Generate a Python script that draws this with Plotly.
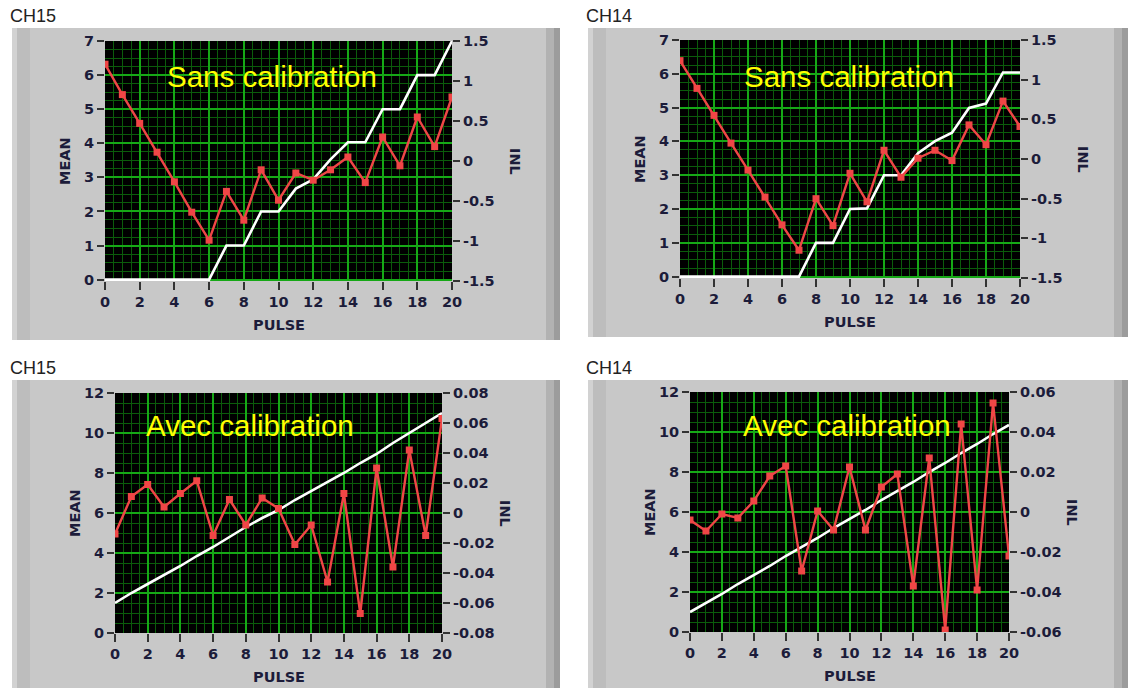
import plotly.graph_objects as go

# ---------------- data ----------------
pulse = [0, 1, 2, 3, 4, 5, 6, 7, 8, 9, 10, 11, 12, 13, 14, 15, 16, 17, 18, 19, 20]

ch15_sans_mean = [0, 0, 0, 0, 0, 0, 0, 1, 1, 2, 2, 2.67, 2.94, 3.53, 4.03, 4.03, 5.0, 5.0, 6.0, 6.0, 7.0]
ch15_sans_inl = [1.21, 0.83, 0.47, 0.11, -0.26, -0.64, -0.99, -0.38, -0.74, -0.11, -0.49,
                 -0.15, -0.24, -0.11, 0.05, -0.27, 0.30, -0.06, 0.55, 0.18, 0.80]

ch14_sans_mean = [0, 0, 0, 0, 0, 0, 0, 0, 1, 1, 2, 2.02, 3.0, 3.0, 3.65, 4.01, 4.26, 4.99, 5.12, 6.04, 6.04]
ch14_sans_inl = [1.24, 0.89, 0.55, 0.20, -0.14, -0.48, -0.83, -1.15, -0.50, -0.84, -0.18,
                 -0.54, 0.11, -0.23, 0.01, 0.11, -0.02, 0.43, 0.18, 0.73, 0.41]

ch15_avec_mean = [1.5, 2.0, 2.45, 2.9, 3.35, 3.85, 4.3, 4.8, 5.3, 5.75, 6.15, 6.65, 7.1, 7.55, 8.0,
                  8.5, 8.95, 9.5, 10.0, 10.5, 11.0]
ch15_avec_inl = [-0.014, 0.011, 0.019, 0.004, 0.013, 0.0215, -0.015, 0.009, -0.008, 0.010, 0.003,
                 -0.021, -0.008, -0.046, 0.013, -0.067, 0.030, -0.036, 0.042, -0.015, 0.063]

ch14_avec_mean = [1.0, 1.45, 1.9, 2.4, 2.85, 3.3, 3.8, 4.25, 4.7, 5.2, 5.65, 6.1, 6.6, 7.05, 7.5,
                  8.0, 8.45, 8.95, 9.4, 9.9, 10.35]
ch14_avec_inl = [-0.004, -0.0095, -0.001, -0.003, 0.0055, 0.018, 0.023, -0.0295, 0.0005, -0.009, 0.0225,
                 -0.009, 0.0125, 0.019, -0.037, 0.027, -0.059, 0.044, -0.039, 0.0545, -0.022]

x_ticks = [0, 2, 4, 6, 8, 10, 12, 14, 16, 18, 20]
mean_ticks_top = [0, 1, 2, 3, 4, 5, 6, 7]
mean_ticks_bot = [0, 2, 4, 6, 8, 10, 12]
inl_ticks_top = [-1.5, -1, -0.5, 0, 0.5, 1, 1.5]
inl_text_top = ["-1.5", "-1", "-0.5", "0", "0.5", "1", "1.5"]
inl_ticks_bl = [-0.08, -0.06, -0.04, -0.02, 0, 0.02, 0.04, 0.06, 0.08]
inl_text_bl = ["-0.08", "-0.06", "-0.04", "-0.02", "0", "0.02", "0.04", "0.06", "0.08"]
inl_ticks_br = [-0.06, -0.04, -0.02, 0, 0.02, 0.04, 0.06]
inl_text_br = ["-0.06", "-0.04", "-0.02", "0", "0.02", "0.04", "0.06"]

channels = ["CH15", "CH14", "CH15", "CH14"]
captions = ["Sans calibration", "Sans calibration", "Avec calibration", "Avec calibration"]

# ---------------- layout geometry (pixels) ----------------
W, H = 1129, 688
panels = [
    dict(plot=(105, 452, 41, 281), box=(12, 560, 28, 340), mean=ch15_sans_mean, inl=ch15_sans_inl,
         mrange=[-0.04, 7], mticks=mean_ticks_top, mminor=0.25, irange=[-1.5, 1.5],
         iticks=inl_ticks_top, itext=inl_text_top, cap=(272, 76)),
    dict(plot=(680, 1020, 40, 278), box=(588, 1128, 28, 337), mean=ch14_sans_mean, inl=ch14_sans_inl,
         mrange=[-0.04, 7], mticks=mean_ticks_top, mminor=0.25, irange=[-1.5, 1.5],
         iticks=inl_ticks_top, itext=inl_text_top, cap=(849, 76)),
    dict(plot=(115, 442, 393, 633), box=(12, 560, 380, 700), mean=ch15_avec_mean, inl=ch15_avec_inl,
         mrange=[0, 12], mticks=mean_ticks_bot, mminor=0.5, irange=[-0.08, 0.08],
         iticks=inl_ticks_bl, itext=inl_text_bl, cap=(250, 424)),
    dict(plot=(690, 1009, 392, 632), box=(588, 1128, 380, 700), mean=ch14_avec_mean, inl=ch14_avec_inl,
         mrange=[0, 12], mticks=mean_ticks_bot, mminor=0.5, irange=[-0.06, 0.06],
         iticks=inl_ticks_br, itext=inl_text_br, cap=(847, 424)),
]


def px(x):
    return x / W


def py(y):
    return 1 - y / H


TICK_FONT = dict(family="DejaVu Sans", size=14.5, color="#1c1c3a", weight="bold")
TITLE_FONT = dict(family="DejaVu Sans", size=14.5, color="#1c1c3a", weight="bold")
MAJOR = "#16a816"
MINOR = "#0b5c0b"
RED = "#f04646"

fig = go.Figure()
shapes = []
annotations = []
layout = {}

for i, p in enumerate(panels):
    n = i + 1
    xa = "xaxis" if n == 1 else f"xaxis{n}"
    xref = "x" if n == 1 else f"x{n}"
    ya_l = 2 * n - 1
    ya_r = 2 * n
    yname_l = "yaxis" if ya_l == 1 else f"yaxis{ya_l}"
    yref_l = "y" if ya_l == 1 else f"y{ya_l}"
    yname_r = f"yaxis{ya_r}"
    yref_r = f"y{ya_r}"
    x0, x1, y0, y1 = p["plot"]
    bx0, bx1, by0, by1 = p["box"]

    # grey panel
    shapes.append(dict(type="rect", xref="paper", yref="paper", x0=px(bx0), x1=px(bx1),
                       y0=py(by1), y1=py(by0), fillcolor="#c8c8c8", line=dict(width=0), layer="below"))
    shapes.append(dict(type="rect", xref="paper", yref="paper", x0=px(bx0), x1=px(bx0 + 5),
                       y0=py(by1), y1=py(by0), fillcolor="#d2d2d2", line=dict(width=0), layer="below"))
    shapes.append(dict(type="rect", xref="paper", yref="paper", x0=px(bx0 + 5), x1=px(bx0 + 18),
                       y0=py(by1), y1=py(by0), fillcolor="#bdbdbd", line=dict(width=0), layer="below"))
    shapes.append(dict(type="rect", xref="paper", yref="paper", x0=px(bx1 - 14), x1=px(bx1 - 6),
                       y0=py(by1), y1=py(by0), fillcolor="#b2b2b2", line=dict(width=0), layer="below"))
    shapes.append(dict(type="rect", xref="paper", yref="paper", x0=px(bx1 - 6), x1=px(bx1),
                       y0=py(by1), y1=py(by0), fillcolor="#9c9c9c", line=dict(width=0), layer="below"))
    # black plot area
    shapes.append(dict(type="rect", xref="paper", yref="paper", x0=px(x0), x1=px(x1),
                       y0=py(y1), y1=py(y0), fillcolor="black", line=dict(width=0), layer="below"))

    layout[xa] = dict(domain=[px(x0), px(x1)], range=[0, 20], anchor=yref_l, automargin=False,
                      tickvals=x_ticks, ticks="outside", ticklen=8, tickwidth=2, tickcolor="#333333",
                      showgrid=True, gridcolor=MAJOR, gridwidth=1.6, zeroline=False, showline=False,
                      minor=dict(dtick=0.5, tick0=0, showgrid=True, gridcolor=MINOR, gridwidth=1, ticks=""),
                      tickfont=TICK_FONT, fixedrange=True)
    layout[yname_l] = dict(domain=[py(y1), py(y0)], range=p["mrange"], anchor=xref, automargin=False,
                           tickvals=p["mticks"], ticks="outside", ticklen=7, tickwidth=2, tickcolor="#333333",
                           showgrid=True, gridcolor=MAJOR, gridwidth=1.6, zeroline=False, showline=False,
                           minor=dict(dtick=p["mminor"], tick0=0, showgrid=True, gridcolor=MINOR,
                                      gridwidth=1, ticks=""),
                           tickfont=TICK_FONT, fixedrange=True)
    layout[yname_r] = dict(domain=[py(y1), py(y0)], range=p["irange"], anchor=xref, overlaying=yref_l,
                           side="right", tickvals=p["iticks"], ticktext=p["itext"], ticks="outside",
                           automargin=False,
                           ticklen=7, tickwidth=2, tickcolor="#333333", showgrid=False, zeroline=False,
                           showline=False, tickfont=TICK_FONT, fixedrange=True)

    fig.add_trace(go.Scatter(x=pulse, y=p["mean"], xaxis=xref, yaxis=yref_l, mode="lines",
                             line=dict(color="white", width=2.6), showlegend=False, hoverinfo="skip"))
    fig.add_trace(go.Scatter(x=pulse, y=p["inl"], xaxis=xref, yaxis=yref_r, mode="lines+markers",
                             line=dict(color=RED, width=2.4), hoverinfo="skip",
                             marker=dict(symbol="square", size=7, color=RED), showlegend=False))

    # labels
    annotations.append(dict(text=channels[i], xref="paper", yref="paper", x=px(bx0 - 4), y=py(by0 - 12),
                            xanchor="left", yanchor="middle", showarrow=False,
                            font=dict(family="Liberation Sans", size=18, color="#222222")))
    annotations.append(dict(text=captions[i], xref="paper", yref="paper", x=px(p["cap"][0]),
                            y=py(p["cap"][1] + 1), xanchor="center", yanchor="middle", showarrow=False,
                            font=dict(family="Liberation Sans", size=29.5, color="#ffff00")))
    annotations.append(dict(text="MEAN", xref="paper", yref="paper", x=px(x0 - 40), y=py((y0 + y1) / 2),
                            xanchor="center", yanchor="middle", textangle=-90, showarrow=False,
                            font=TITLE_FONT))
    annotations.append(dict(text="INL", xref="paper", yref="paper", x=px(x1 + 63), y=py((y0 + y1) / 2),
                            xanchor="center", yanchor="middle", textangle=90, showarrow=False,
                            font=TITLE_FONT))
    annotations.append(dict(text="PULSE", xref="paper", yref="paper", x=px((x0 + x1) / 2), y=py(y1 + 44),
                            xanchor="center", yanchor="middle", showarrow=False, font=TITLE_FONT))

fig.update_layout(**layout)
fig.update_layout(width=W, height=H, autosize=False,
                  margin=dict(l=0, r=0, t=0, b=0, pad=0, autoexpand=False),
                  paper_bgcolor="white", plot_bgcolor="black",
                  shapes=shapes, annotations=annotations, showlegend=False)

fig.write_html("out.html",
               config={"displayModeBar": False},
               post_script="document.body.style.margin='0';document.body.style.overflow='hidden';")
